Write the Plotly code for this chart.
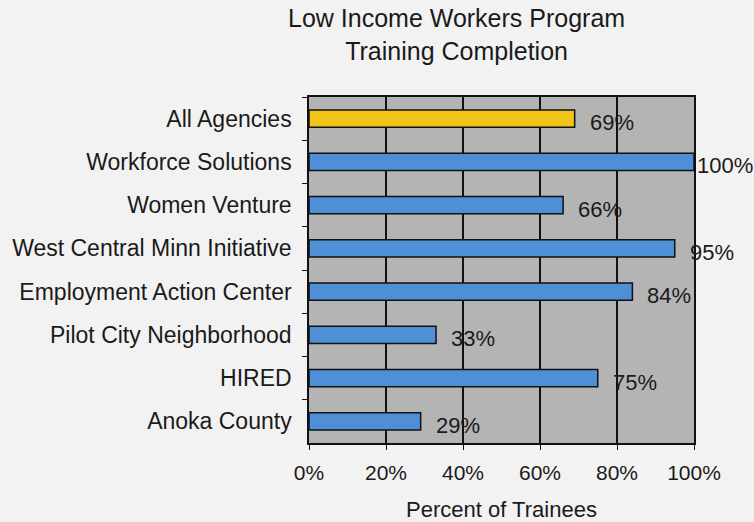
import plotly.graph_objects as go

categories = ["All Agencies", "Workforce Solutions", "Women Venture",
              "West Central Minn Initiative", "Employment Action Center",
              "Pilot City Neighborhood", "HIRED", "Anoka County"]
values = [69, 100, 66, 95, 84, 33, 75, 29]
colors = ["#f2c318"] + ["#4f8fd8"] * 7
tick_vals = [0, 20, 40, 60, 80, 100]
tick_text = ["0%", "20%", "40%", "60%", "80%", "100%"]

font_family = "Liberation Sans, Arial, sans-serif"
ink = "#1a1a1a"

fig = go.Figure()
fig.add_trace(go.Bar(
    x=values, y=categories, orientation="h",
    marker=dict(color=colors, line=dict(color="#111111", width=1.5)),
    width=0.4,
    hoverinfo="skip",
))

for c, v in zip(categories, values):
    fig.add_annotation(x=v, y=c, text=f"{v}%", showarrow=False,
                       xanchor="left", yanchor="middle",
                       xshift=1 if v >= 100 else 13, yshift=-4,
                       font=dict(size=22, color=ink, family=font_family))

fig.add_annotation(text="Low Income Workers Program<br>Training Completion",
                   xref="paper", yref="paper",
                   x=(456 - 309) / 385, y=1 + (97 - 35) / 346,
                   xanchor="center", yanchor="middle", showarrow=False,
                   font=dict(size=25, color=ink, family=font_family))

fig.update_layout(
    width=754, height=522,
    margin=dict(l=309, r=60, t=97, b=79),
    paper_bgcolor="#f2f2f2",
    plot_bgcolor="#b4b4b4",
    showlegend=False,
    xaxis=dict(range=[0, 100], tickvals=tick_vals, ticktext=tick_text,
               showgrid=True, gridcolor="#111111", gridwidth=1.8,
               showline=True, linecolor="#111111", linewidth=1.5, mirror=True,
               ticks="outside", ticklen=5, tickcolor="#111111",
               ticklabelstandoff=5, automargin=False,
               tickfont=dict(size=21, color=ink, family=font_family),
               title=dict(text="Percent of Trainees", standoff=26,
                          font=dict(size=22, color=ink, family=font_family)),
               zeroline=False, fixedrange=True),
    yaxis=dict(categoryorder="array", categoryarray=categories,
               autorange="reversed",
               showline=True, linecolor="#111111", linewidth=1.5, mirror=True,
               ticks="outside", ticklen=5, tickcolor="#111111",
               tickson="boundaries", showgrid=False, automargin=False,
               tickfont=dict(size=23, color=ink, family=font_family),
               ticklabelstandoff=11, fixedrange=True),
)

fig.write_html("out.html")
